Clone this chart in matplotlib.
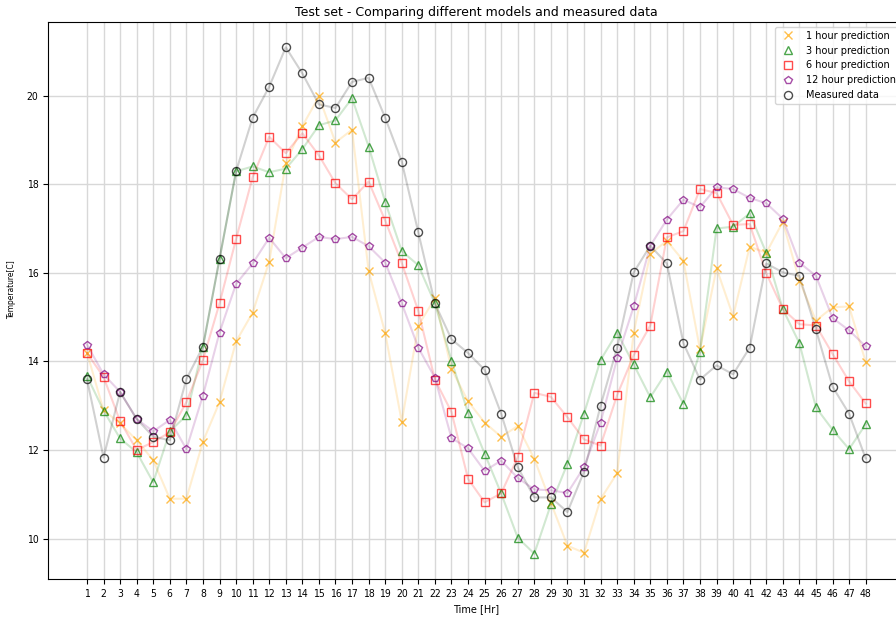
import numpy as np
import matplotlib
matplotlib.use('Agg')
import matplotlib.pyplot as plt

plt.rcParams['font.family'] = ['DejaVu Sans']

hours = np.arange(1, 49)

pred_1h = [14.2, 12.9, 12.6, 12.22, 11.77, 10.9, 10.9, 12.19, 13.08, 14.45, 15.1, 16.25,
           18.47, 19.31, 19.98, 18.94, 19.23, 16.04, 14.64, 12.64, 14.81, 15.42, 13.83, 13.1,
           12.62, 12.3, 12.54, 11.8, 10.81, 9.84, 9.68, 10.89, 11.48, 14.65, 16.43, 16.72,
           16.27, 14.27, 16.1, 15.02, 16.59, 16.45, 17.15, 15.82, 14.92, 15.22, 15.24, 13.99]
pred_3h = [13.67, 12.89, 12.26, 11.95, 11.27, 12.42, 12.78, 14.33, 16.31, 18.29, 18.4, 18.27,
           18.35, 18.79, 19.33, 19.44, 19.94, 18.85, 17.6, 16.49, 16.17, 15.31, 14.02, 12.84,
           11.92, 11.02, 10.02, 9.66, 10.77, 11.69, 12.82, 14.03, 14.65, 13.93, 13.19, 13.77,
           13.04, 14.21, 17.0, 17.04, 17.34, 16.45, 15.18, 14.41, 12.96, 12.46, 12.02, 12.58]
pred_6h = [14.19, 13.65, 12.65, 12.0, 12.18, 12.4, 13.08, 14.03, 15.31, 16.76, 18.16, 19.07,
           18.7, 19.15, 18.65, 18.02, 17.66, 18.06, 17.18, 16.22, 15.14, 13.59, 12.86, 11.35,
           10.82, 11.02, 11.84, 13.29, 13.2, 12.74, 12.24, 12.1, 13.24, 14.14, 14.81, 16.8,
           16.94, 17.89, 17.8, 17.08, 17.1, 15.99, 15.18, 14.84, 14.81, 14.17, 13.55, 13.05]
pred_12h = [14.38, 13.71, 13.31, 12.7, 12.42, 12.68, 12.02, 13.23, 14.65, 15.75, 16.21, 16.79,
            16.33, 16.57, 16.81, 16.76, 16.81, 16.6, 16.23, 15.31, 14.31, 13.63, 12.27, 12.04,
            11.53, 11.76, 11.37, 11.11, 11.09, 11.03, 11.61, 12.62, 14.07, 15.24, 16.61, 17.2,
            17.65, 17.48, 17.93, 17.89, 17.69, 17.57, 17.22, 16.23, 15.93, 14.98, 14.7, 14.34]
measured = [13.6, 11.83, 13.31, 12.7, 12.3, 12.22, 13.6, 14.33, 16.31, 18.29, 19.5, 20.2,
            21.09, 20.5, 19.8, 19.72, 20.31, 20.4, 19.5, 18.51, 16.91, 15.31, 14.5, 14.19,
            13.81, 12.82, 11.61, 10.93, 10.93, 10.6, 11.51, 13.0, 14.31, 16.01, 16.61, 16.21,
            14.41, 13.59, 13.91, 13.71, 14.31, 16.21, 16.01, 15.93, 14.72, 13.43, 12.82, 11.81]

series = [(pred_1h, 'x', 'orange', '1 hour prediction'),
          (pred_3h, '^', 'green', '3 hour prediction'),
          (pred_6h, 's', 'red', '6 hour prediction'),
          (pred_12h, 'p', 'purple', '12 hour prediction'),
          (measured, 'o', 'black', 'Measured data')]

fig = plt.figure(figsize=(8.96, 6.17), dpi=100)
# axes run a little past the right edge, like the cropped original
ax = fig.add_axes([0.0536, 0.0616, 0.956, 0.9028])

for vals, mk, col, lab in series:
    ax.plot(hours, vals, color=col, alpha=0.18, linewidth=1.5)
    ax.plot(hours, vals, linestyle='', marker=mk, color=col, fillstyle='none',
            markersize=5.8, markeredgewidth=1.0, alpha=0.7, label=lab)

ax.set_xticks(hours)
ax.tick_params(labelsize=7.5)
for t in ax.get_xticklabels() + ax.get_yticklabels():
    t.set_fontstretch('condensed')
ax.grid(True, color='#d8d8d8', linewidth=1.0)
ax.set_title('Test set - Comparing different models and measured data', fontsize=9, pad=4)
ax.set_xlabel('Time [Hr]', fontsize=7)
ax.set_ylabel('Temperature[C]', fontsize=6, fontstretch='condensed')
ax.yaxis.set_label_coords(-0.037, 0.52)
ax.legend(loc='upper right', fontsize=7)

plt.savefig('out.png', dpi=100)
